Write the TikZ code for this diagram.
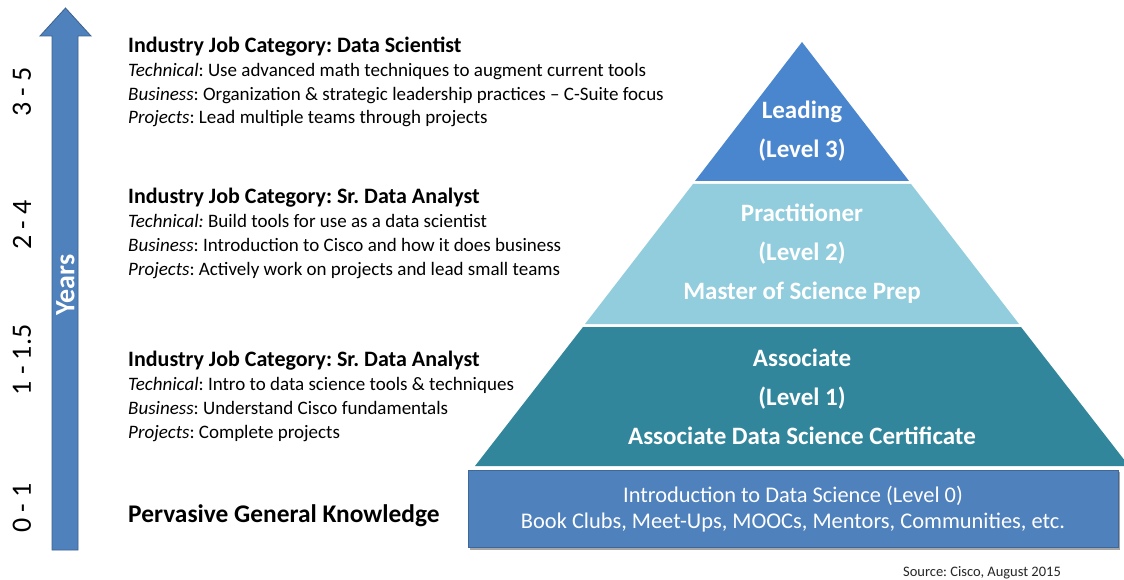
\documentclass[tikz,border=0pt]{standalone}
\usepackage{fontspec}
\setmainfont{Carlito}
\definecolor{ArrowBlue}{RGB}{79,129,189}
\definecolor{LeadBlue}{RGB}{74,134,206}
\definecolor{PracBlue}{RGB}{146,205,222}
\definecolor{AssocTeal}{RGB}{49,134,155}
\usetikzlibrary{positioning}

\tikzset{
  yearlabel/.style={rotate=90, font=\fontsize{28}{28}\selectfont},
  jobtext/.style={anchor=base west, align=left, inner sep=0pt, font=\fontsize{19}{23.7}\selectfont},
  levelname/.style={text=white, align=center, font=\bfseries\fontsize{25}{39}\selectfont},
}

\begin{document}
\frenchspacing
\begin{tikzpicture}[x=1pt, y=-1pt]
  \clip (0,0) rectangle (1124,580);
  \fill[white] (0,0) rectangle (1124,580);

  % years arrow
  \draw[fill=ArrowBlue, draw=ArrowBlue!75!black, line width=0.8pt]
    (52,550) -- (52,36) -- (40,36) -- (65.5,8) -- (91,36) -- (78,36) -- (78,550) -- cycle;
  \node[rotate=90, text=white, font=\bfseries\fontsize{28}{28}\selectfont] (years) at (65.5,285) {Years};

  \node[yearlabel] (y35) at (22,92) {3 - 5};
  \node[yearlabel] (y24) at (22,225) {2 - 4};
  \node[yearlabel] (y115) at (22,360) {1 - 1.5};
  \node[yearlabel] (y01) at (22,508) {0 - 1};

  % job categories (anchored on the last line)
  \node[jobtext] (jobA) at (128,124) {%
    {\bfseries\fontsize{22}{23.7}\selectfont Industry Job Category: Data Scientist}\\
    \textit{Technical}: Use advanced math techniques to augment current tools\\
    \textit{Business}: Organization \& strategic leadership practices -- C-Suite focus\\
    \textit{Projects}: Lead multiple teams through projects};
  \node[jobtext] (jobB) at (128,275) {%
    {\bfseries\fontsize{22}{23.7}\selectfont Industry Job Category: Sr. Data Analyst}\\
    \textit{Technical:} Build tools for use as a data scientist\\
    \textit{Business}: Introduction to Cisco and how it does business\\
    \textit{Projects}: Actively work on projects and lead small teams};
  \node[jobtext] (jobC) at (128,438) {%
    {\bfseries\fontsize{22}{23.7}\selectfont Industry Job Category: Sr. Data Analyst}\\
    \textit{Technical}: Intro to data science tools \& techniques\\
    \textit{Business}: Understand Cisco fundamentals\\
    \textit{Projects}: Complete projects};
  \node[jobtext, font=\bfseries\fontsize{25.4}{25.4}\selectfont] (general) at (128,522) {Pervasive General Knowledge};

  % pyramid
  \fill[LeadBlue] (802,42) -- (909,181) -- (695,181) -- cycle;
  \fill[PracBlue] (693,184) -- (911,184) -- (1019,324) -- (585,324) -- cycle;
  \fill[AssocTeal] (583,327) -- (1021,327) -- (1129,466) -- (475,466) -- cycle;
  \node[levelname] (leading) at (802,131) {Leading\\(Level 3)};
  \node[levelname] (practitioner) at (802,254) {Practitioner\\(Level 2)\\Master of Science Prep};
  \node[levelname] (associate) at (802,397) {Associate\\(Level 1)\\Associate Data Science Certificate};

  % level 0 base
  \fill[black!35] (470,472) rectangle (1120,550);
  \node[draw=ArrowBlue!80!black, fill=ArrowBlue, minimum width=650pt, minimum height=77pt,
        inner sep=0pt, text=white, align=center, font=\fontsize{22.4}{26}\selectfont] (intro) at (793,509)
    {Introduction to Data Science (Level 0)\\Book Clubs, Meet-Ups, MOOCs, Mentors, Communities, etc.};

  \node[font=\fontsize{14.5}{14.5}\selectfont, text=black!85] (source) at (982,573) {Source: Cisco, August 2015};
\end{tikzpicture}
\end{document}
